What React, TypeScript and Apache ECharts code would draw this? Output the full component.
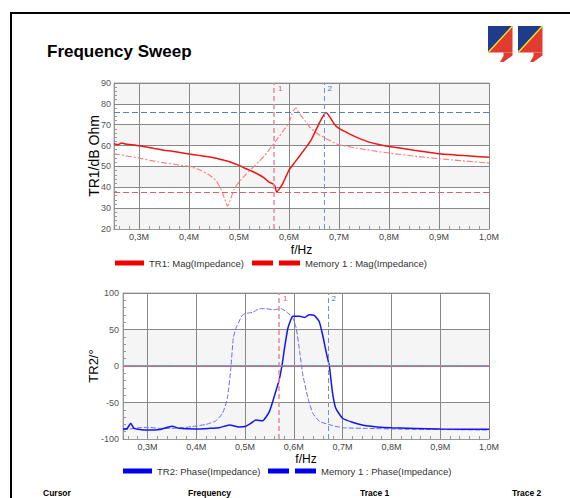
import React, { useEffect, useRef } from 'react';
import * as echarts from 'echarts';

// ---------- data (frequency in MHz) ----------
const tr1Freq = [0.25, 0.258, 0.265, 0.272, 0.3, 0.33, 0.35, 0.37, 0.4, 0.42, 0.45, 0.47, 0.48, 0.5, 0.513, 0.525, 0.54, 0.55, 0.56, 0.568, 0.572, 0.575, 0.58, 0.587, 0.6, 0.613, 0.633, 0.645, 0.66, 0.668, 0.674, 0.68, 0.69, 0.7, 0.715, 0.73, 0.756, 0.78, 0.8, 0.85, 0.9, 0.95, 1.0];
const tr1Mag = [60.9, 60.4, 61.2, 60.8, 59.9, 58.6, 57.8, 57.2, 56.0, 55.3, 54.2, 53.0, 52.4, 50.5, 49.0, 47.8, 46.0, 44.5, 42.5, 41.6, 40.6, 37.7, 39.0, 41.5, 48.2, 52.4, 58.8, 63.0, 70.5, 74.0, 75.8, 74.3, 70.5, 68.2, 66.3, 64.5, 62.0, 60.5, 59.6, 57.8, 56.1, 55.2, 54.4];

const mem1MagFreq = [0.25, 0.3, 0.34, 0.4, 0.42, 0.44, 0.455, 0.465, 0.472, 0.477, 0.482, 0.49, 0.5, 0.513, 0.54, 0.55, 0.573, 0.59, 0.6, 0.608, 0.614, 0.62, 0.633, 0.643, 0.66, 0.7, 0.756, 0.8, 0.856, 0.9, 1.0];
const mem1Mag = [56.1, 54.0, 52.1, 50.0, 48.5, 46.0, 43.0, 38.5, 34.0, 30.9, 33.5, 39.0, 42.5, 46.0, 52.4, 54.8, 62.0, 67.6, 70.8, 76.5, 78.1, 75.6, 71.6, 68.4, 65.2, 60.4, 58.0, 56.4, 54.8, 53.7, 51.6];

const tr2Freq = [0.25, 0.258, 0.266, 0.272, 0.285, 0.3, 0.325, 0.351, 0.365, 0.4, 0.427, 0.447, 0.468, 0.488, 0.5, 0.512, 0.522, 0.536, 0.55, 0.563, 0.57, 0.576, 0.581, 0.588, 0.598, 0.612, 0.622, 0.632, 0.642, 0.652, 0.659, 0.666, 0.673, 0.679, 0.686, 0.7, 0.72, 0.748, 0.8, 0.9, 1.0];
const tr2Phase = [-86.3, -86.0, -78.5, -85.0, -87.0, -87.7, -87.0, -82.6, -85.4, -86.3, -85.4, -84.5, -80.8, -83.5, -83.0, -78.5, -74.0, -75.0, -62.5, -35.0, -19.0, 1.6, 24.5, 52.0, 68.0, 68.0, 66.6, 70.3, 69.3, 61.0, 42.8, 20.0, -0.7, -35.0, -58.0, -71.6, -77.0, -81.7, -84.5, -86.3, -86.7];

const mem1PhaseFreq = [0.25, 0.283, 0.3, 0.324, 0.358, 0.392, 0.42, 0.44, 0.454, 0.464, 0.471, 0.476, 0.4815, 0.495, 0.5055, 0.516, 0.5295, 0.543, 0.557, 0.574, 0.588, 0.598, 0.605, 0.612, 0.6185, 0.629, 0.639, 0.653, 0.68, 0.7, 0.75, 0.82, 0.9, 1.0];
const mem1Phase = [-87.7, -84.5, -84.0, -85.4, -85.4, -83.0, -80.0, -75.3, -64.8, -44.0, -3.0, 38.2, 52.0, 70.0, 72.5, 73.5, 78.5, 78.5, 77.0, 78.5, 72.5, 65.7, 52.0, 20.0, -12.0, -44.0, -64.8, -76.0, -81.7, -84.5, -85.5, -86.5, -87.0, -87.7];

const markerFreq = [0.575, 0.674];
const markerLabels = ['1', '2'];
const markerMag = [37.6, 75.8];
const markerPhase = [-1, 0.8];

const seriesNames = ['TR1: Mag(Impedance)', 'Memory 1 : Mag(Impedance)', 'TR2: Phase(Impedance)', 'Memory 1 : Phase(Impedance)'];
const titleText = 'Frequency Sweep';
const cursorHeaders = ['Cursor', 'Frequency', 'Trace 1', 'Trace 2'];

const FONT = '"Liberation Sans", Arial, sans-serif';
const RED1 = '#e8889c';
const BLUE2 = '#6f93c6';

const zip = (xs: number[], ys: number[]) => xs.map((x, i) => [x, ys[i]]);

const fmtX = (v: number) => {
  if (Math.abs(v * 10 - Math.round(v * 10)) > 1e-6) return '';
  return v.toFixed(1).replace('.', ',') + 'M';
};

const xAxisCfg = (gridIndex: number, nameGap: number) => ({
  type: 'value',
  gridIndex,
  min: 0.25,
  max: 1.0,
  splitNumber: 8,
  name: 'f/Hz',
  nameLocation: 'middle',
  nameGap,
  nameMoveOverlap: false,
  nameTextStyle: { fontSize: 12, color: '#000', fontFamily: FONT },
  axisLine: { show: true, onZero: false, lineStyle: { color: '#999' } },
  axisTick: { show: true, inside: true, length: 3, lineStyle: { color: '#888' } },
  minorTick: { show: true, splitNumber: 5, length: 3, lineStyle: { color: '#999' } },
  axisLabel: { fontSize: 9, color: '#444', margin: 3, formatter: fmtX, fontFamily: FONT },
  splitLine: { show: true, lineStyle: { color: '#888', width: 1 } },
});

const yAxisCfg = (gridIndex: number, min: number, max: number, interval: number, name: string, nameGap: number, nameSize: number, margin: number) => ({
  type: 'value',
  gridIndex,
  min,
  max,
  interval,
  name,
  nameLocation: 'middle',
  nameGap,
  nameMoveOverlap: false,
  nameTextStyle: { fontSize: nameSize, color: '#000', fontFamily: FONT },
  axisLine: { show: true, lineStyle: { color: '#999' } },
  axisTick: { show: true, inside: true, length: 3, lineStyle: { color: '#888' } },
  minorTick: { show: true, splitNumber: 5, length: 3, lineStyle: { color: '#999' } },
  axisLabel: { fontSize: 9, color: '#555', margin, fontFamily: FONT },
  splitLine: { show: true, lineStyle: { color: '#888', width: 1 } },
  splitArea: { show: true, areaStyle: { color: ['#f5f5f5', '#ffffff'] } },
});

const markerLines = (values: number[], hColors: string[], hTypes: any[]) => ({
  silent: true,
  symbol: ['none', 'none'],
  label: { show: false },
  data: [
    ...markerFreq.map((f, i) => ({
      xAxis: f,
      lineStyle: { color: i === 0 ? RED1 : BLUE2, type: [5, 3], width: i === 0 ? 1.5 : 1 },
    })),
    ...values.map((v, i) => ({
      yAxis: v,
      lineStyle: { color: hColors[i], type: hTypes[i], width: 1 },
    })),
  ],
});

const markerPoints = (top: number) => ({
  silent: true,
  symbol: 'rect',
  symbolSize: 1,
  itemStyle: { color: 'rgba(0,0,0,0)' },
  data: markerFreq.map((f, i) => ({
    name: markerLabels[i],
    coord: [f, top],
    label: {
      show: true,
      position: 'right',
      distance: 1,
      offset: [0, 5],
      formatter: '{b}',
      fontSize: 8,
      color: i === 0 ? '#d85a78' : '#4f76b0',
      fontFamily: FONT,
    },
  })),
});

const legendCfg = (name: string, left: number, top: number, color: string, dashed: boolean) => ({
  show: true,
  selectedMode: false,
  left,
  top,
  itemWidth: dashed ? 48 : 29,
  itemHeight: 5,
  padding: 0,
  textStyle: { fontSize: 9.5, color: '#333', fontFamily: FONT },
  data: [
    {
      name,
      icon: dashed ? 'path://M0,0H21V5H0ZM27,0H48V5H27Z' : 'rect',
      itemStyle: { color, borderWidth: 0 },
    },
  ],
});

const logo = (x: number) => ({
  type: 'group',
  x,
  y: 26,
  silent: true,
  children: [
    { type: 'polygon', shape: { points: [[0, 0], [24.5, 0], [0, 26.5]] }, style: { fill: '#1e3b8c' } },
    { type: 'polygon', shape: { points: [[24.5, 0], [24.5, 26.5], [0, 26.5]] }, style: { fill: '#e23b30' } },
    { type: 'polygon', shape: { points: [[15.5, 26.5], [24.5, 26.5], [24.5, 29.5], [15.5, 36], [12, 36], [15.5, 30]] }, style: { fill: '#e23b30' } },
    { type: 'line', shape: { x1: 0.3, y1: 26.2, x2: 24.2, y2: 0.3 }, style: { stroke: '#f4e41a', lineWidth: 1.4 } },
  ],
});

const headerX = [43, 188, 360, 512];

export default function App() {
  const ref = useRef<HTMLDivElement>(null);

  useEffect(() => {
    if (!ref.current) return;
    const chart = echarts.init(ref.current, undefined, { renderer: 'svg' });
    const option: any = {
      animation: false,
      backgroundColor: '#ffffff',
      textStyle: { fontFamily: FONT },
      grid: [
        { left: 114, right: 81, top: 83, height: 146, show: true, borderColor: '#aaa', borderWidth: 1, backgroundColor: 'transparent' },
        { left: 123, right: 81, top: 293, height: 146, show: true, borderColor: '#aaa', borderWidth: 1, backgroundColor: 'transparent' },
      ],
      xAxis: [xAxisCfg(0, 15), xAxisCfg(1, 14)],
      yAxis: [
        yAxisCfg(0, 20, 90, 10, 'TR1/dB Ohm', 13, 14, 3),
        yAxisCfg(1, -100, 100, 50, 'TR2/°', 23, 13, 4),
      ],
      legend: [
        legendCfg(seriesNames[0], 115, 258, '#f00000', false),
        legendCfg(seriesNames[1], 252, 258, '#f00000', true),
        legendCfg(seriesNames[2], 123, 466, '#0000f0', false),
        legendCfg(seriesNames[3], 268, 466, '#0000f0', true),
      ],
      series: [
        {
          name: seriesNames[1],
          type: 'line',
          xAxisIndex: 0,
          yAxisIndex: 0,
          data: zip(mem1MagFreq, mem1Mag),
          showSymbol: false,
          smooth: 0.15,
          lineStyle: { color: '#ff7a7a', width: 1.1, type: [6, 2, 2, 2] },
          itemStyle: { color: '#ff7a7a' },
        },
        {
          name: seriesNames[0],
          type: 'line',
          xAxisIndex: 0,
          yAxisIndex: 0,
          data: zip(tr1Freq, tr1Mag),
          showSymbol: false,
          smooth: 0.15,
          lineStyle: { color: '#f01414', width: 1.5 },
          itemStyle: { color: '#f01414' },
          markLine: markerLines(markerMag, ['#e0606e', '#5a7fb8'], [[6, 3], [6, 3]]),
          markPoint: markerPoints(90),
        },
        {
          name: seriesNames[3],
          type: 'line',
          xAxisIndex: 1,
          yAxisIndex: 1,
          data: zip(mem1PhaseFreq, mem1Phase),
          showSymbol: false,
          smooth: 0.15,
          lineStyle: { color: '#6a6af2', width: 1, type: [5, 2] },
          itemStyle: { color: '#6a6af2' },
        },
        {
          name: seriesNames[2],
          type: 'line',
          xAxisIndex: 1,
          yAxisIndex: 1,
          data: zip(tr2Freq, tr2Phase),
          showSymbol: false,
          smooth: 0.15,
          lineStyle: { color: '#1414f0', width: 1.5 },
          itemStyle: { color: '#1414f0' },
          markLine: markerLines(markerPhase, ['#e0606e', '#7a9ccc'], [[6, 3], 'solid']),
          markPoint: markerPoints(100),
        },
      ],
      graphic: [
        { type: 'rect', silent: true, shape: { x: 11, y: 13, width: 640, height: 600 }, style: { fill: 'none', stroke: '#000', lineWidth: 2 } },
        {
          type: 'text',
          x: 47,
          y: 51,
          silent: true,
          style: { text: titleText, fill: '#000', fontSize: 17, fontWeight: 'bold', fontFamily: FONT, verticalAlign: 'middle' },
        },
        logo(488),
        logo(518),
        ...cursorHeaders.map((t, i) => ({
          type: 'text',
          x: headerX[i],
          y: 493,
          silent: true,
          style: { text: t, fill: '#000', fontSize: 8.5, fontWeight: 'bold', fontFamily: FONT, verticalAlign: 'middle' },
        })),
      ],
    };
    chart.setOption(option);
    return () => chart.dispose();
  }, []);

  return (
    <div
      ref={ref}
      style={{ position: 'absolute', left: 0, top: 0, width: 570, height: 498, background: '#fff' }}
    />
  );
}
